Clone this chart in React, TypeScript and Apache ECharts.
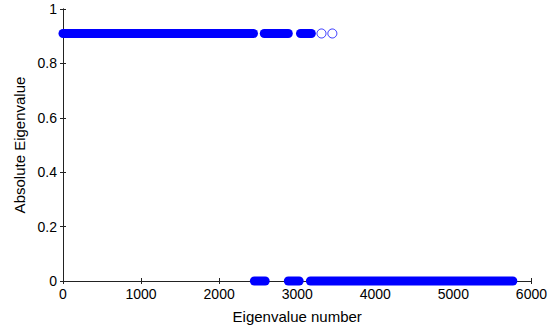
import React, { useEffect, useRef } from 'react';
import * as echarts from 'echarts';

// Runs of consecutive eigenvalue indices sharing the same absolute value
const highRunStart = [0, 2578, 3042];
const highRunEnd = [2440, 2886, 3181];
const highValue = 0.91;
const lowRunStart = [2451, 2886, 3169];
const lowRunEnd = [2590, 3025, 5762];
const lowValue = 0;
// Isolated (unfilled) eigenvalues
const isolatedX = [3311, 3450];
const isolatedY = [0.91, 0.91];

const xMin = 0;
const xMax = 6000;
const xInterval = 1000;
const yMin = 0;
const yMax = 1;
const yInterval = 0.2;

const BLUE = '#0000ff';
const FONT = '"Liberation Sans", Arial, sans-serif';

export default function App() {
  const ref = useRef<HTMLDivElement>(null);
  useEffect(() => {
    if (!ref.current) return;
    const chart = echarts.init(ref.current, undefined, { renderer: 'svg' });

    const runSeries = (starts: number[], ends: number[], v: number) =>
      starts.map((s, i) => ({
        type: 'line',
        data: [[s, v], [ends[i], v]],
        showSymbol: false,
        symbol: 'none',
        clip: false,
        lineStyle: { color: BLUE, width: 9, cap: 'round' },
        silent: true,
        z: 3,
      }));

    const axisLine = { show: true, lineStyle: { color: '#222', width: 1 } };
    const tick = { show: true, inside: true, length: 3, lineStyle: { color: '#222' } };
    const label = { color: '#000', fontFamily: FONT, fontSize: 14 };

    chart.setOption({
      animation: false,
      backgroundColor: '#fff',
      grid: { left: 63, right: 14, top: 9, bottom: 48, containLabel: false },
      xAxis: [
        {
          type: 'value', min: xMin, max: xMax, interval: xInterval, position: 'bottom',
          axisLine, axisTick: tick, splitLine: { show: false },
          axisLabel: { ...label, margin: 6, formatter: (v: number) => String(v) },
          name: 'Eigenvalue number', nameLocation: 'middle', nameGap: 28,
          nameTextStyle: { color: '#000', fontFamily: FONT, fontSize: 15 },
        },
        {
          type: 'value', min: xMin, max: xMax, interval: xInterval, position: 'top',
          axisLine, axisTick: tick, splitLine: { show: false }, axisLabel: { show: false },
        },
      ],
      yAxis: [
        {
          type: 'value', min: yMin, max: yMax, interval: yInterval, position: 'left',
          axisLine, axisTick: tick, splitLine: { show: false },
          axisLabel: { ...label, margin: 6, formatter: (v: number) => String(Math.round(v * 10) / 10) },
          name: 'Absolute Eigenvalue', nameLocation: 'middle', nameGap: 36,
          nameTextStyle: { color: '#000', fontFamily: FONT, fontSize: 15 },
        },
        {
          type: 'value', min: yMin, max: yMax, interval: yInterval, position: 'right',
          axisLine, axisTick: tick, splitLine: { show: false }, axisLabel: { show: false },
        },
      ],
      series: [
        ...runSeries(highRunStart, highRunEnd, highValue),
        ...runSeries(lowRunStart, lowRunEnd, lowValue),
        {
          type: 'scatter',
          data: isolatedX.map((x, i) => [x, isolatedY[i]]),
          symbol: 'circle',
          symbolSize: 9,
          clip: false,
          itemStyle: { color: '#fff', borderColor: BLUE, borderWidth: 1 },
          silent: true,
          z: 3,
        },
      ],
    });
    return () => chart.dispose();
  }, []);
  return (
    <div
      ref={ref}
      style={{ position: 'absolute', left: 0, top: 0, width: 550, height: 329, background: '#fff' }}
    />
  );
}
